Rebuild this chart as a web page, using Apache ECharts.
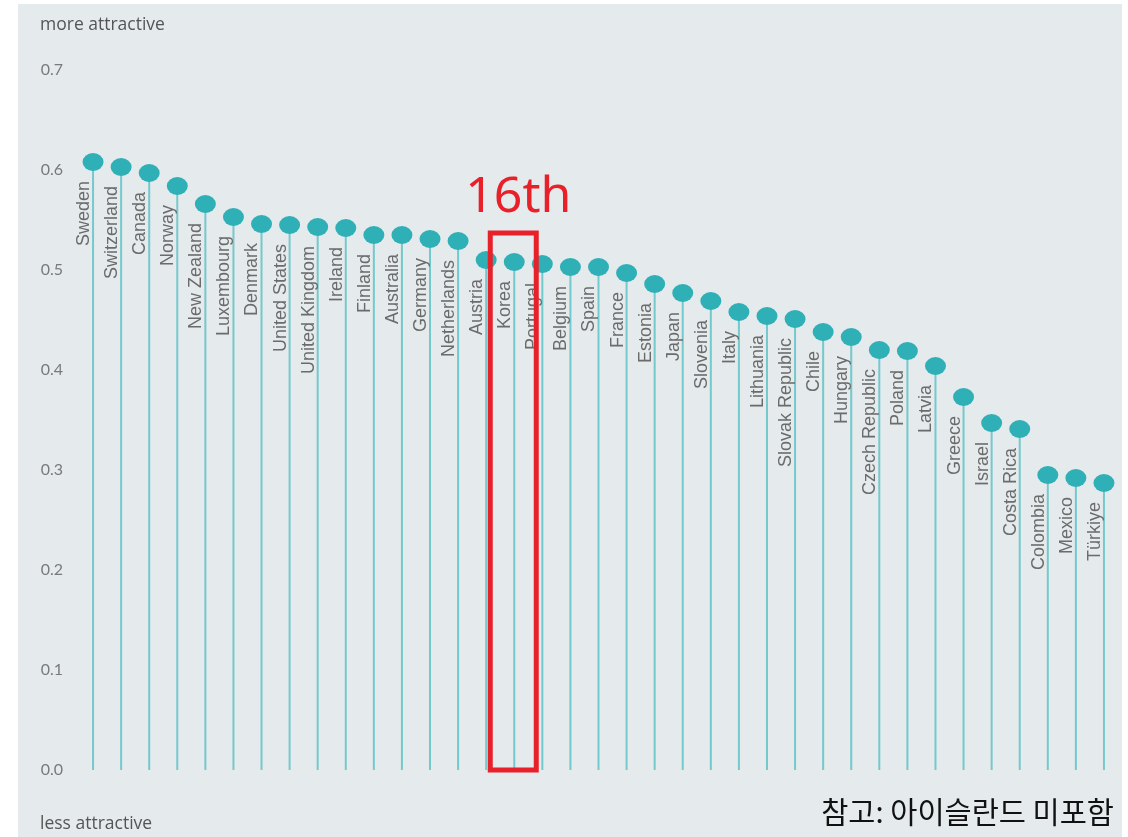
<!DOCTYPE html>
<html>
<head>
<meta charset="utf-8">
<script src="https://cdn.jsdelivr.net/npm/echarts@6/dist/echarts.min.js"></script>
<style>
  html, body { margin: 0; padding: 0; background: #ffffff; }
  #bg { position: absolute; left: 18px; top: 4px; width: 1104px; height: 833px; background: #e5eaec; }
  #chart { position: absolute; left: 0; top: 0; width: 1128px; height: 837px; }
</style>
</head>
<body>
<div id="bg"></div>
<div id="chart"></div>
<script>
const countries = ["Sweden","Switzerland","Canada","Norway","New Zealand","Luxembourg","Denmark","United States","United Kingdom","Ireland","Finland","Australia","Germany","Netherlands","Austria","Korea","Portugal","Belgium","Spain","France","Estonia","Japan","Slovenia","Italy","Lithuania","Slovak Republic","Chile","Hungary","Czech Republic","Poland","Latvia","Greece","Israel","Costa Rica","Colombia","Mexico","Türkiye"];
const values = [0.608,0.603,0.597,0.584,0.566,0.553,0.546,0.545,0.543,0.542,0.535,0.535,0.531,0.529,0.510,0.508,0.506,0.503,0.503,0.497,0.486,0.477,0.469,0.458,0.454,0.451,0.438,0.433,0.420,0.419,0.404,0.373,0.347,0.341,0.295,0.292,0.287];
const yTicks = [0, 0.1, 0.2, 0.3, 0.4, 0.5, 0.6, 0.7];
const highlight = "Korea";
const highlightText = "16th";
const topNote = "more attractive";
const bottomNote = "less attractive";
const footNote = "참고: 아이슬란드 미포함";

const chart = echarts.init(document.getElementById('chart'), null, { renderer: 'canvas' });
const option = {
  backgroundColor: 'transparent',
  animation: false,
  grid: { left: 79, right: 10, top: 70, bottom: 67, containLabel: false },
  xAxis: {
    type: 'category', data: countries, boundaryGap: true,
    axisLine: { show: false }, axisTick: { show: false }, axisLabel: { show: false }, splitLine: { show: false }
  },
  yAxis: {
    type: 'value', min: yTicks[0], max: yTicks[yTicks.length - 1], interval: 0.1,
    axisLine: { show: false }, axisTick: { show: false }, splitLine: { show: false },
    axisLabel: { color: '#7a7a7a', fontFamily: 'Lato', fontSize: 16, margin: 16, formatter: v => v.toFixed(1) }
  },
  series: [
    {
      type: 'bar', data: values, barWidth: 2, z: 1,
      itemStyle: { color: '#74c9cd' }, silent: true
    },
    {
      type: 'scatter', data: values, symbol: 'circle', symbolSize: [21, 18], z: 3,
      itemStyle: { color: '#2eb0b6', opacity: 1 },
      label: {
        show: true, position: 'bottom', distance: 10, rotate: 90,
        align: 'right', verticalAlign: 'bottom',
        formatter: p => countries[p.dataIndex],
        color: '#6b6b6b', fontFamily: 'Liberation Sans', fontSize: 18
      }
    }
  ]
};
chart.setOption(option);

const ki = countries.indexOf(highlight);
const kp = chart.convertToPixel({ seriesIndex: 1 }, [ki, values[ki]]);
const k0 = chart.convertToPixel({ seriesIndex: 1 }, [ki, 0]);
const boxTop = kp[1] - 29;
chart.setOption({
  graphic: [
    { type: 'text', left: 40, top: 16, style: { text: topNote, fill: '#555', font: '17.5px "Open Sans"' } },
    { type: 'text', left: 40, top: 815, style: { text: bottomNote, fill: '#555', font: '17.5px "Open Sans"' } },
    { type: 'text', right: 14, top: 797, style: { text: footNote, fill: '#111', font: '29.5px "Noto Sans CJK KR"' } },
    { type: 'rect', z: 100, shape: { x: kp[0] - 24, y: boxTop, width: 46, height: k0[1] - boxTop },
      style: { fill: 'none', stroke: '#e8202a', lineWidth: 5 } },
    { type: 'text', z: 100, x: kp[0] + 4, y: boxTop - 10,
      style: { text: highlightText, fill: '#e8202a', font: '50px "Noto Sans"', textAlign: 'center', textVerticalAlign: 'bottom' } }
  ]
});
</script>
</body>
</html>
